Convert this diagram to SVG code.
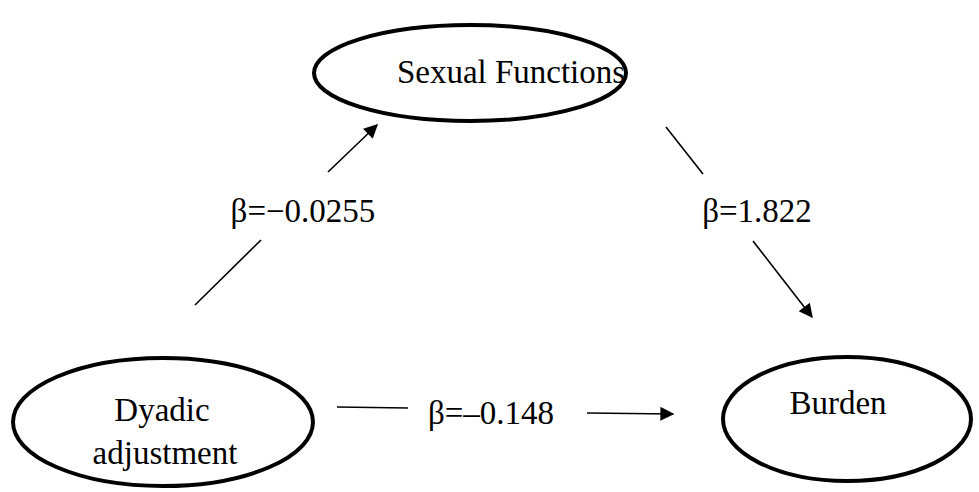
<svg xmlns="http://www.w3.org/2000/svg" width="979" height="492" viewBox="0 0 979 492">
  <style>
    .node { fill: #ffffff; stroke: #000000; stroke-width: 4; }
    .label { font-family: "Liberation Serif", "Times New Roman", serif; font-size: 33px; fill: #000000; text-anchor: middle; }
    .edge { stroke: #000000; stroke-width: 1.6; fill: none; }
  </style>
  <defs>
    <marker id="arrowBig" viewBox="0 0 10 10" refX="9" refY="5" markerWidth="16" markerHeight="14" markerUnits="userSpaceOnUse" orient="auto">
      <path d="M0,0 L10,5 L0,10 z" fill="#000000"/>
    </marker>
  </defs>
  <rect width="979" height="492" fill="#ffffff"/>

  <g id="sexual-functions">
    <ellipse class="node" cx="470" cy="73" rx="156" ry="48"/>
    <text class="label" x="511" y="83">Sexual Functions</text>
  </g>

  <g id="dyadic-adjustment">
    <ellipse class="node" cx="163" cy="422" rx="150" ry="64"/>
    <text class="label" x="162" y="421">Dyadic</text>
    <text class="label" x="165" y="464">adjustment</text>
  </g>

  <g id="burden">
    <ellipse class="node" cx="847" cy="419" rx="124" ry="62"/>
    <text class="label" x="838" y="414">Burden</text>
  </g>

  <g id="connectors">
    <!-- Dyadic adjustment -> Sexual Functions -->
    <line class="edge" x1="195" y1="305" x2="261" y2="240"/>
    <line class="edge" x1="328" y1="172" x2="377" y2="125" marker-end="url(#arrowBig)"/>
    <text class="label" x="303" y="222">β=−0.0255</text>
    <!-- Sexual Functions -> Burden -->
    <line class="edge" x1="666" y1="127" x2="703" y2="174"/>
    <line class="edge" x1="753" y1="241" x2="812" y2="317" marker-end="url(#arrowBig)"/>
    <text class="label" x="757" y="222">β=1.822</text>
    <!-- Dyadic adjustment -> Burden -->
    <line class="edge" x1="337" y1="407" x2="408" y2="408"/>
    <text class="label" x="491" y="424">β=–0.148</text>
    <line class="edge" x1="587" y1="413" x2="673" y2="414" marker-end="url(#arrowBig)"/>
  </g>
</svg>
